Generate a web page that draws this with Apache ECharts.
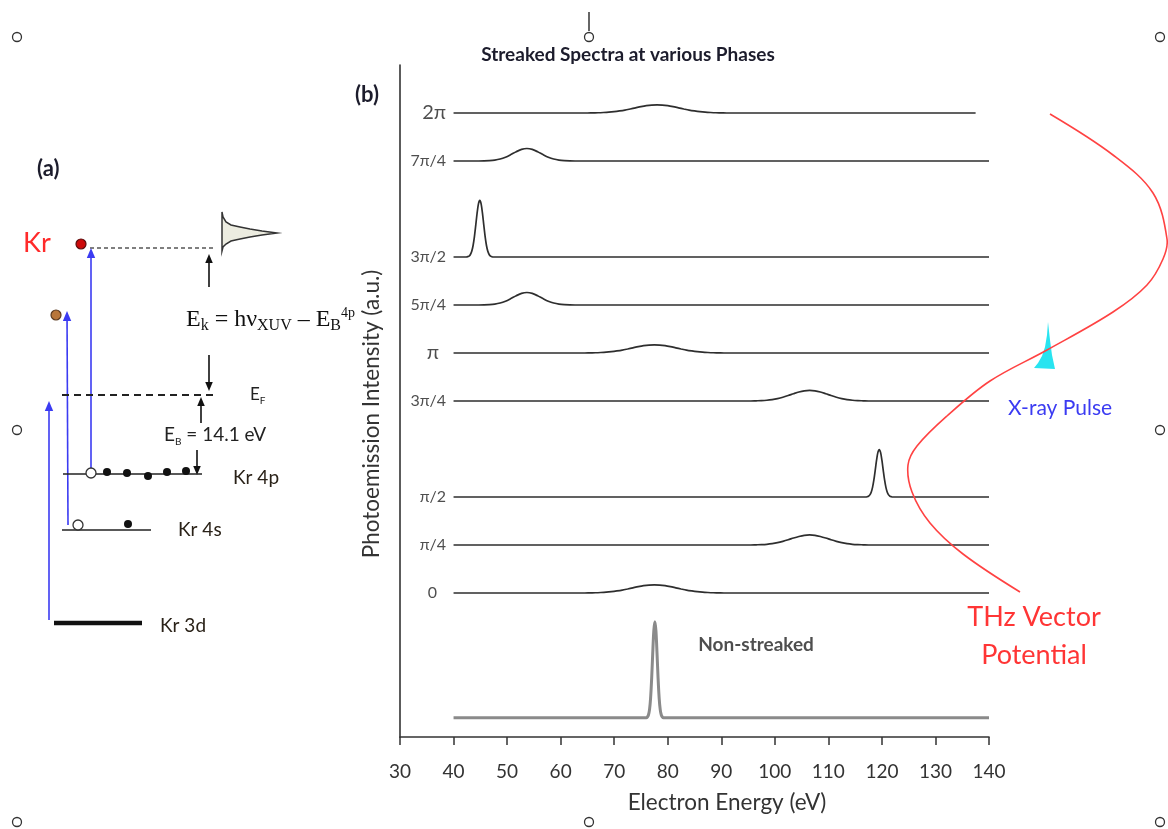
<!DOCTYPE html>
<html>
<head>
<meta charset="utf-8">
<script src="https://cdn.jsdelivr.net/npm/echarts@6/dist/echarts.min.js"></script>
<style>
html,body{margin:0;padding:0;background:#fff;}
#chart{width:1168px;height:829px;}
</style>
</head>
<body>
<div id="chart"></div>
<script>
// Electron energy axis (eV)
const energyMin = 30;
const energyMax = 140;
const energyStep = 10;

// Streaking phases, bottom to top, and the vertical offset (a.u.) of each trace
const phaseNames = ['0', 'π/4', 'π/2', '3π/4', 'π', '5π/4', '3π/2', '7π/4', '2π'];
const phaseOffsets = [3, 4, 5, 7, 8, 9, 10, 12, 13];

// Streaked spectra: [electron energy (eV), intensity above baseline (a.u.)]
const spectrum0 = [[40,0],[64.5,0],[65.5,0.003],[66.5,0.005],[67.5,0.01],[68.5,0.017],[69.5,0.028],[70.5,0.043],[71.5,0.061],[72.5,0.084],[73.5,0.108],[74.5,0.132],[75.5,0.152],[76.5,0.165],[77.5,0.17],[78.5,0.165],[79.5,0.152],[80.5,0.132],[81.5,0.108],[82.5,0.084],[83.5,0.061],[84.5,0.043],[85.5,0.028],[86.5,0.017],[87.5,0.01],[88.5,0.005],[89.5,0.003],[90.5,0],[140,0]];
const spectrumPi4 = [[40,0],[95.5,0],[96.5,0.004],[97.5,0.008],[98.5,0.015],[99.5,0.028],[100.5,0.048],[101.5,0.076],[102.5,0.109],[103.5,0.146],[104.5,0.178],[105.5,0.202],[106.5,0.21],[107.5,0.202],[108.5,0.178],[109.5,0.146],[110.5,0.109],[111.5,0.076],[112.5,0.048],[113.5,0.028],[114.5,0.015],[115.5,0.008],[116.5,0.004],[117.5,0],[140,0]];
const spectrumPi2 = [[40,0],[117,0],[117.25,0.006],[117.5,0.017],[117.75,0.044],[118,0.1],[118.25,0.201],[118.5,0.356],[118.75,0.557],[119,0.767],[119.25,0.929],[119.5,0.99],[119.75,0.929],[120,0.767],[120.25,0.557],[120.5,0.356],[120.75,0.201],[121,0.1],[121.25,0.044],[121.5,0.017],[121.75,0.006],[122,0],[140,0]];
const spectrum3Pi4 = [[40,0],[95.5,0],[96.5,0.004],[97.5,0.008],[98.5,0.016],[99.5,0.03],[100.5,0.051],[101.5,0.079],[102.5,0.114],[103.5,0.152],[104.5,0.187],[105.5,0.211],[106.5,0.22],[107.5,0.211],[108.5,0.187],[109.5,0.152],[110.5,0.114],[111.5,0.079],[112.5,0.051],[113.5,0.03],[114.5,0.016],[115.5,0.008],[116.5,0.004],[117.5,0],[140,0]];
const spectrumPi = [[40,0],[64.5,0],[65.5,0.003],[66.5,0.005],[67.5,0.01],[68.5,0.017],[69.5,0.028],[70.5,0.043],[71.5,0.061],[72.5,0.084],[73.5,0.108],[74.5,0.132],[75.5,0.152],[76.5,0.165],[77.5,0.17],[78.5,0.165],[79.5,0.152],[80.5,0.132],[81.5,0.108],[82.5,0.084],[83.5,0.061],[84.5,0.043],[85.5,0.028],[86.5,0.017],[87.5,0.01],[88.5,0.005],[89.5,0.003],[90.5,0],[140,0]];
const spectrum5Pi4 = [[40,0],[44.7,0],[45.7,0.002],[46.7,0.007],[47.7,0.018],[48.7,0.041],[49.7,0.08],[50.7,0.134],[51.7,0.193],[52.7,0.242],[53.7,0.26],[54.7,0.242],[55.7,0.193],[56.7,0.134],[57.7,0.08],[58.7,0.041],[59.7,0.018],[60.7,0.007],[61.7,0.002],[62.7,0],[140,0]];
const spectrum3Pi2 = [[40,0],[42.4,0],[42.65,0.007],[42.9,0.02],[43.15,0.052],[43.4,0.119],[43.65,0.24],[43.9,0.425],[44.15,0.664],[44.4,0.915],[44.65,1.107],[44.9,1.18],[45.15,1.107],[45.4,0.915],[45.65,0.664],[45.9,0.425],[46.15,0.24],[46.4,0.119],[46.65,0.052],[46.9,0.02],[47.15,0.007],[47.4,0],[140,0]];
const spectrum7Pi4 = [[40,0],[44.7,0],[45.7,0.002],[46.7,0.007],[47.7,0.018],[48.7,0.041],[49.7,0.08],[50.7,0.134],[51.7,0.193],[52.7,0.242],[53.7,0.26],[54.7,0.242],[55.7,0.193],[56.7,0.134],[57.7,0.08],[58.7,0.041],[59.7,0.018],[60.7,0.007],[61.7,0.002],[62.7,0],[140,0]];
const spectrum2Pi = [[40,0],[65,0],[66,0.003],[67,0.005],[68,0.01],[69,0.017],[70,0.028],[71,0.043],[72,0.061],[73,0.084],[74,0.108],[75,0.132],[76,0.152],[77,0.165],[78,0.17],[79,0.165],[80,0.152],[81,0.132],[82,0.108],[83,0.084],[84,0.061],[85,0.043],[86,0.028],[87,0.017],[88,0.01],[89,0.005],[90,0.003],[91,0],[137.5,0]];
const phaseSpectra = [spectrum0, spectrumPi4, spectrumPi2, spectrum3Pi4, spectrumPi, spectrum5Pi4, spectrum3Pi2, spectrum7Pi4, spectrum2Pi];

// Reference spectrum without the THz field
const nonStreaked = [[40,0],[76,0],[76.2,0.016],[76.4,0.058],[76.6,0.17],[76.8,0.412],[77,0.822],[77.2,1.348],[77.4,1.812],[77.6,2.0],[77.8,1.812],[78,1.348],[78.2,0.822],[78.4,0.412],[78.6,0.17],[78.8,0.058],[79,0.016],[79.2,0],[140,0]];
const nonStreakedOffset = 0.4;
const nonStreakedName = 'Non-streaked';

const SANS = 'Lato, "Open Sans", sans-serif';
const SERIF = '"Liberation Serif", "DejaVu Serif", serif';

const series = [];
phaseSpectra.forEach(function (spec, i) {
  series.push({
    type: 'line',
    name: phaseNames[i],
    data: spec.map(function (p) { return [p[0], p[1] + phaseOffsets[i]]; }),
    smooth: 0.3,
    showSymbol: false,
    lineStyle: { color: '#2e2e2e', width: 1.7 },
    z: 3,
    silent: true
  });
});
series.push({
  type: 'line',
  name: nonStreakedName,
  data: nonStreaked.map(function (p) { return [p[0], p[1] + nonStreakedOffset]; }),
  smooth: 0.3,
  showSymbol: false,
  lineStyle: { color: '#8a8a8a', width: 3 },
  z: 3,
  silent: true
});

// Phase labels at the start of each trace
series.push({
  type: 'scatter',
  silent: true,
  symbolSize: 1,
  itemStyle: { color: 'rgba(0,0,0,0)' },
  data: phaseNames.map(function (name, i) {
    const big = (name === '2π' || name === 'π');
    let dist = 7;
    if (name === 'π') dist = 14;
    if (name === '0') dist = 16;
    return {
      value: [40, phaseOffsets[i]],
      label: {
        show: true,
        position: 'left',
        distance: dist,
        formatter: name,
        fontSize: big ? 20 : 16,
        fontFamily: SANS,
        color: '#222'
      }
    };
  })
});
// Caption of the reference spectrum
series.push({
  type: 'scatter',
  silent: true,
  symbolSize: 1,
  itemStyle: { color: 'rgba(0,0,0,0)' },
  data: [{
    value: [85.6, 1.92],
    label: {
      show: true, position: 'right', distance: 0, formatter: nonStreakedName,
      fontSize: 19, fontWeight: 'bold', fontFamily: SANS, color: '#222'
    }
  }]
});

// ---- schematic helpers (panel a and annotations) ----
function line(x1, y1, x2, y2, color, w, dash) {
  return { type: 'line', shape: { x1: x1, y1: y1, x2: x2, y2: y2 },
    style: { stroke: color, lineWidth: w, lineDash: dash || null }, z: 50 };
}
function arrow(x1, y1, x2, y2, color, w, size) {
  const ang = Math.atan2(y2 - y1, x2 - x1);
  const s = size || 8;
  const bx = x2 - s * Math.cos(ang), by = y2 - s * Math.sin(ang);
  const px = -Math.sin(ang) * s * 0.42, py = Math.cos(ang) * s * 0.42;
  return [
    line(x1, y1, bx, by, color, w),
    { type: 'polygon', shape: { points: [[x2, y2], [bx + px, by + py], [bx - px, by - py]] },
      style: { fill: color }, z: 50 }
  ];
}
function dot(x, y, r, fill, stroke, w) {
  return { type: 'circle', shape: { cx: x, cy: y, r: r },
    style: { fill: fill, stroke: stroke || null, lineWidth: w || 0 }, z: 51 };
}
function txt(x, y, s, size, color, opts) {
  opts = opts || {};
  return { type: 'text', x: x, y: y, z: 52, rotation: opts.rotation || 0,
    style: Object.assign({ text: s, fontSize: size, fontFamily: opts.family || SANS,
      fontWeight: opts.weight || 'normal', fill: color,
      textAlign: opts.align || 'left', textVerticalAlign: 'middle' }, opts.extra || {}) };
}

const graphics = [];
// selection handles around the figure
[[17,37],[589,37],[1160,37],[17,430],[1160,430],[17,822],[589,822],[1160,822]].forEach(function (p) {
  graphics.push(dot(p[0], p[1], 4.5, '#fff', '#333', 1.3));
});
graphics.push(line(589, 12, 589, 31, '#333', 1.5));

// titles
graphics.push(txt(628, 55, 'Streaked Spectra at various Phases', 19, '#1c1c2c', { align: 'center', weight: 'bold' }));
graphics.push(txt(355, 95, '(b)', 22, '#1c1c2c', { weight: 'bold' }));
graphics.push(txt(37, 169, '(a)', 22, '#1c1c2c', { weight: 'bold' }));

// axis titles
graphics.push(txt(727, 803, 'Electron Energy (eV)', 22.5, '#333', { align: 'center' }));
graphics.push(txt(372, 414, 'Photoemission Intensity (a.u.)', 22.5, '#333', { align: 'center', rotation: Math.PI / 2 }));

// panel (a): energy level scheme of Kr
graphics.push(txt(23, 243, 'Kr', 27, '#ff2a2a'));
graphics.push(line(90, 248, 216, 248, '#555', 1.3, [4, 3]));
graphics.push({ type: 'polygon', z: 50,
  shape: { points: [[222,212],[223,217],[226,222],[231,225],[240,227],[250,229],[262,231],[277,233],
                    [262,235],[250,237],[240,239],[231,241],[226,244],[223,247],[222,251]] },
  style: { fill: '#ecece0', stroke: '#333', lineWidth: 1.5 } });
arrow(209, 287, 209, 254, '#111', 1.6, 9).forEach(function (g) { graphics.push(g); });
arrow(209, 355, 209, 391, '#111', 1.6, 9).forEach(function (g) { graphics.push(g); });

// photoexcitation arrows
arrow(49, 620, 49, 401, '#3b3bf2', 1.6, 10).forEach(function (g) { graphics.push(g); });
arrow(68, 525, 67, 311, '#3b3bf2', 1.6, 10).forEach(function (g) { graphics.push(g); });
arrow(91, 468, 91, 248, '#3b3bf2', 1.6, 10).forEach(function (g) { graphics.push(g); });
graphics.push(dot(81, 244, 5, '#cc0a0a', '#5a0d0d', 1.2));
graphics.push(dot(56, 315, 5, '#b8763a', '#5a3a20', 1.2));

graphics.push({ type: 'text', x: 186, y: 320, z: 52, style: {
  text: '{m|E}{s|k}{m| = hν}{s|XUV}{m| – E}{s|B}{p|4p}',
  textVerticalAlign: 'middle',
  rich: {
    m: { fontSize: 24, fontFamily: SERIF, fill: '#111', lineHeight: 28, verticalAlign: 'middle' },
    s: { fontSize: 16, fontFamily: SERIF, fill: '#111', lineHeight: 28, verticalAlign: 'bottom' },
    p: { fontSize: 14, fontFamily: SERIF, fill: '#111', lineHeight: 28, verticalAlign: 'top' }
  } } });

// Fermi level
graphics.push(line(62, 395, 218, 395, '#222', 2, [7, 5]));
graphics.push({ type: 'text', x: 250, y: 395, z: 52, style: {
  text: '{m|E}{s|F}', textVerticalAlign: 'middle',
  rich: {
    m: { fontSize: 17, fontFamily: SANS, fill: '#222', lineHeight: 22, verticalAlign: 'middle' },
    s: { fontSize: 10, fontFamily: SANS, fill: '#222', lineHeight: 22, verticalAlign: 'bottom' }
  } } });
arrow(201, 423, 201, 397, '#111', 1.6, 9).forEach(function (g) { graphics.push(g); });
arrow(197, 450, 197, 475, '#111', 1.6, 9).forEach(function (g) { graphics.push(g); });
graphics.push({ type: 'text', x: 164, y: 435, z: 52, style: {
  text: '{m|E}{s|B}{m| = 14.1 eV}', textVerticalAlign: 'middle',
  rich: {
    m: { fontSize: 19, fontFamily: SANS, fill: '#222', lineHeight: 24, verticalAlign: 'middle' },
    s: { fontSize: 10, fontFamily: SANS, fill: '#222', lineHeight: 24, verticalAlign: 'bottom' }
  } } });

// Kr 4p
graphics.push(line(63, 474, 202, 474, '#222', 1.6));
graphics.push(dot(91, 473, 5, '#fff', '#333', 1.3));
[[107,472],[127,473],[148,476],[167,472],[186,471]].forEach(function (p) {
  graphics.push(dot(p[0], p[1], 4, '#111'));
});
graphics.push(txt(233, 478, 'Kr 4p', 19, '#2a2218'));
// Kr 4s
graphics.push(line(62, 530, 151, 530, '#222', 1.6));
graphics.push(dot(78, 525, 5, '#fff', '#333', 1.3));
graphics.push(dot(128, 524, 4, '#111'));
graphics.push(txt(178, 530, 'Kr 4s', 19, '#2a2218'));
// Kr 3d
graphics.push(line(54, 623, 142, 623, '#111', 4.5));
graphics.push(txt(160, 626, 'Kr 3d', 19, '#2a2218'));

// THz vector potential and X-ray pulse
graphics.push({ type: 'polyline', z: 60, shape: {
  points: [[1050,114],[1113,155],[1153,193],[1167,239],[1163,259],[1147,285],[1113,312],[1047,350],
           [990,381],[947,416],[917,446],[908,465],[912,492],[930,523],[963,554],[1020,592]],
  smooth: 0.35 },
  style: { stroke: '#ff4242', lineWidth: 1.6, fill: null } });
graphics.push({ type: 'polygon', z: 59,
  shape: { points: [[1048,322],[1047,335],[1045,347],[1042,356],[1038,363],[1034,368],
                    [1055,369],[1052,355],[1050,340]] },
  style: { fill: '#28e4f0' } });
graphics.push(txt(1008, 408, 'X-ray Pulse', 21, '#3b3bf2'));
graphics.push(txt(1034, 617, 'THz Vector', 27, '#ff3535', { align: 'center' }));
graphics.push(txt(1034, 655, 'Potential', 27, '#ff3535', { align: 'center' }));

const chart = echarts.init(document.getElementById('chart'), null, { renderer: 'canvas' });
chart.setOption({
  animation: false,
  backgroundColor: '#ffffff',
  grid: { left: 400, right: 179, top: 65, bottom: 92, containLabel: false },
  xAxis: {
    type: 'value',
    min: energyMin, max: energyMax, interval: energyStep,
    axisLine: { show: true, onZero: false, lineStyle: { color: '#333', width: 1.6 } },
    axisTick: { show: true, length: 8, lineStyle: { color: '#333', width: 1.5 } },
    axisLabel: { margin: 25, fontSize: 19, fontFamily: SANS, color: '#333' },
    splitLine: { show: false }
  },
  yAxis: {
    type: 'value', min: 0, max: 14,
    axisLine: { show: true, lineStyle: { color: '#333', width: 1.6 } },
    axisTick: { show: false },
    axisLabel: { show: false },
    splitLine: { show: false }
  },
  series: series,
  graphic: { elements: graphics }
});
</script>
</body>
</html>
